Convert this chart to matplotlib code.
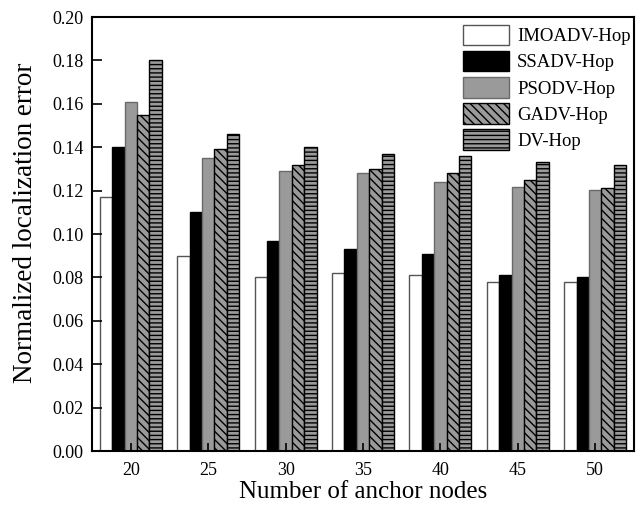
import numpy as np
import matplotlib
matplotlib.use('Agg')
import matplotlib.pyplot as plt

anchors = [20, 25, 30, 35, 40, 45, 50]
imoadv = [0.117, 0.090, 0.080, 0.082, 0.081, 0.078, 0.078]
ssadv = [0.140, 0.110, 0.097, 0.093, 0.091, 0.081, 0.080]
psodv = [0.161, 0.135, 0.129, 0.128, 0.124, 0.1215, 0.1205]
gadv = [0.155, 0.139, 0.132, 0.130, 0.128, 0.125, 0.121]
dvhop = [0.180, 0.146, 0.140, 0.137, 0.136, 0.133, 0.132]
names = ['IMOADV-Hop', 'SSADV-Hop', 'PSODV-Hop', 'GADV-Hop', 'DV-Hop']

plt.rcParams['font.family'] = ['Liberation Serif', 'DejaVu Serif']
plt.rcParams['hatch.linewidth'] = 1.0

fig = plt.figure(figsize=(6.4, 5.05), dpi=100)
ax = fig.add_axes([0.1438, 0.1069, 0.8468, 0.8594])

# face, edge, hatch for each method
styles = [
    ('white', '#555555', None),
    ('black', 'black', None),
    ('#9a9a9a', '#6a6a6a', None),
    ('#9a9a9a', 'black', '\\\\\\\\'),
    ('#9a9a9a', 'black', '----'),
]
series = [imoadv, ssadv, psodv, gadv, dvhop]
x = np.array(anchors, dtype=float)
w = 0.8
for i, (vals, (fc, ec, hatch), name) in enumerate(zip(series, styles, names)):
    ax.bar(x + (i - 2) * w, vals, width=w, facecolor=fc, edgecolor=ec,
           hatch=hatch, linewidth=1.0, label=name)

ax.set_xlim(17.5, 52.5)
ax.set_ylim(0, 0.20)
ax.set_xticks(anchors)
ax.set_yticks(np.arange(0, 0.201, 0.02))
ax.set_yticklabels(['%.2f' % v for v in np.arange(0, 0.201, 0.02)])
ax.tick_params(axis='both', direction='in', labelsize=13)
ax.tick_params(axis='x', length=6, width=1.2, pad=8)
ax.tick_params(axis='y', length=7, width=1.2, pad=6)
for sp in ax.spines.values():
    sp.set_linewidth(1.5)

ax.set_xlabel('Number of anchor nodes', fontsize=18, labelpad=1)
ax.set_ylabel('Normalized localization error', fontsize=19.5)
ax.yaxis.set_label_coords(-0.1, 0.525)

ax.legend(loc='upper left', bbox_to_anchor=(0.684, 0.982), frameon=False,
          fontsize=13.5, handlelength=2.45, handleheight=1.3,
          handletextpad=0.45, labelspacing=0.3, borderpad=0, borderaxespad=0)

fig.savefig('out.png', dpi=100)
